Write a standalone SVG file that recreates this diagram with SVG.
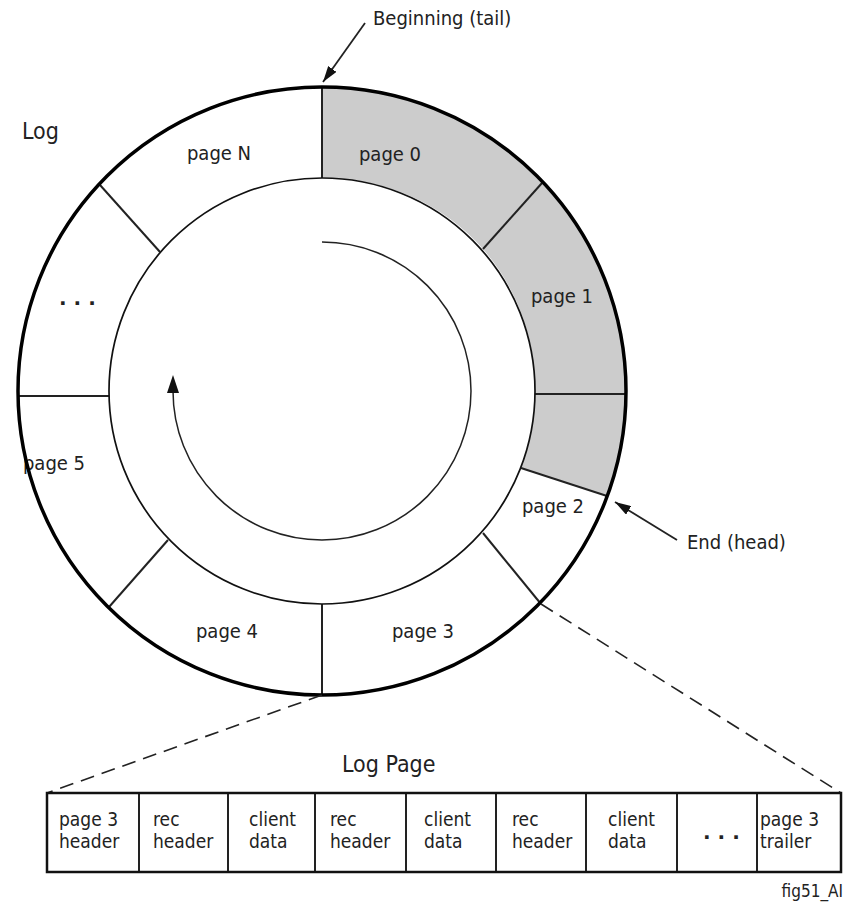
<svg xmlns="http://www.w3.org/2000/svg" width="844" height="903" viewBox="0 0 844 903">
<defs>
<style>
.t{font-family:"DejaVu Sans Condensed","DejaVu Sans","Liberation Sans",sans-serif;font-stretch:condensed;font-size:20px;fill:#222}
.big{font-size:23px}
.c{font-size:19px}
.dots{font-family:"DejaVu Sans",sans-serif;font-weight:bold;font-size:20px;letter-spacing:7px;fill:#222}
.seg{stroke:none}
.grey{fill:#cccccc}
.white{fill:#ffffff}
.div{stroke:#222;stroke-width:2;fill:none}
.cell{fill:#fff;stroke:#222;stroke-width:2}
.arrow{stroke:#222;stroke-width:1.8;fill:none}
.dash{stroke:#222;stroke-width:1.6;stroke-dasharray:14 8}
</style>
<marker id="ah" viewBox="0 0 16 10" refX="16" refY="5" markerWidth="16" markerHeight="10" markerUnits="userSpaceOnUse" orient="auto">
<path d="M0,0 L16,5 L0,10 z" fill="#111"/>
</marker>
</defs>
<rect width="844" height="903" fill="#fff"/>

<g id="segments">
<g id="page0"><path class="seg grey" d="M322,87 A304,304 0 0 1 542,183 L483,249 A213,213 0 0 0 322,178 Z"/><text class="t" x="390" y="161" text-anchor="middle">page 0</text></g>
<g id="page1"><path class="seg grey" d="M542,183 A304,304 0 0 1 626,394 L535,394 A213,213 0 0 0 483,249 Z"/><text class="t" x="562" y="303" text-anchor="middle">page 1</text></g>
<g id="page1b"><path class="seg grey" d="M626,394 A304,304 0 0 1 607,496 L521,468 A213,213 0 0 0 535,394 Z"/></g>
<g id="page2"><path class="seg white" d="M607,496 A304,304 0 0 1 541,604 L483,533 A213,213 0 0 0 521,468 Z"/><text class="t" x="553" y="513" text-anchor="middle">page 2</text></g>
<g id="page3"><path class="seg white" d="M541,604 A304,304 0 0 1 322,695 L322,604 A213,213 0 0 0 483,533 Z"/><text class="t" x="423" y="638" text-anchor="middle">page 3</text></g>
<g id="page4"><path class="seg white" d="M322,695 A304,304 0 0 1 109,607 L168,540 A213,213 0 0 0 322,604 Z"/><text class="t" x="227" y="638" text-anchor="middle">page 4</text></g>
<g id="page5"><path class="seg white" d="M109,607 A304,304 0 0 1 18,396 L109,396 A213,213 0 0 0 168,540 Z"/><text class="t" x="54" y="470" text-anchor="middle">page 5</text></g>
<g id="pageEllipsis"><path class="seg white" d="M18,396 A304,304 0 0 1 100,185 L160,252 A213,213 0 0 0 109,396 Z"/><text class="dots" x="59" y="305">...</text></g>
<g id="pageN"><path class="seg white" d="M100,185 A304,304 0 0 1 322,87 L322,178 A213,213 0 0 0 160,252 Z"/><text class="t" x="219" y="160" text-anchor="middle">page N</text></g>
</g>

<g id="ring">
<line class="div" x1="322" y1="87" x2="322" y2="178"/>
<line class="div" x1="542" y1="183" x2="483" y2="249"/>
<line class="div" x1="626" y1="394" x2="535" y2="394"/>
<line class="div" x1="607" y1="496" x2="521" y2="468"/>
<line class="div" x1="541" y1="604" x2="483" y2="533"/>
<line class="div" x1="322" y1="695" x2="322" y2="604"/>
<line class="div" x1="109" y1="607" x2="168" y2="540"/>
<line class="div" x1="18" y1="396" x2="109" y2="396"/>
<line class="div" x1="100" y1="185" x2="160" y2="252"/>
<circle cx="322" cy="391" r="213" fill="none" stroke="#111" stroke-width="1.7"/>
<circle cx="322" cy="391" r="304" fill="none" stroke="#000" stroke-width="3.5"/>
</g>

<g id="labels">
<text class="t big" x="22" y="139">Log</text>
<text class="t" x="373" y="25">Beginning (tail)</text>
<text class="t" x="687" y="549">End (head)</text>
<text class="t big" x="342" y="772">Log Page</text>
<text class="t" x="843" y="897" text-anchor="end" style="font-size:17px">fig51_AI</text>
</g>

<g id="connectors">
<line class="arrow" x1="365" y1="23" x2="323" y2="82" marker-end="url(#ah)"/>
<line class="arrow" x1="677" y1="540" x2="615" y2="502" marker-end="url(#ah)"/>
<path d="M322,242 A149,149 0 1 1 173,391" fill="none" stroke="#222" stroke-width="1.5"/>
<polygon points="173,375 167,393 179,393" fill="#111"/>
<line class="dash" x1="322" y1="695" x2="47" y2="793"/>
<line class="dash" x1="541" y1="604" x2="841" y2="793"/>
</g>

<g id="logpage">
<g id="cell1"><rect class="cell" x="47" y="793" width="92" height="79"/><text class="t c" x="59" y="826">page 3</text><text class="t c" x="59" y="848">header</text></g>
<g id="cell2"><rect class="cell" x="139" y="793" width="89" height="79"/><text class="t c" x="153" y="826">rec</text><text class="t c" x="153" y="848">header</text></g>
<g id="cell3"><rect class="cell" x="228" y="793" width="87" height="79"/><text class="t c" x="249" y="826">client</text><text class="t c" x="249" y="848">data</text></g>
<g id="cell4"><rect class="cell" x="315" y="793" width="91" height="79"/><text class="t c" x="330" y="826">rec</text><text class="t c" x="330" y="848">header</text></g>
<g id="cell5"><rect class="cell" x="406" y="793" width="90" height="79"/><text class="t c" x="424" y="826">client</text><text class="t c" x="424" y="848">data</text></g>
<g id="cell6"><rect class="cell" x="496" y="793" width="90" height="79"/><text class="t c" x="512" y="826">rec</text><text class="t c" x="512" y="848">header</text></g>
<g id="cell7"><rect class="cell" x="586" y="793" width="91" height="79"/><text class="t c" x="608" y="826">client</text><text class="t c" x="608" y="848">data</text></g>
<g id="cell8"><rect class="cell" x="677" y="793" width="80" height="79"/><text class="dots" x="703" y="839">...</text></g>
<g id="cell9"><rect class="cell" x="757" y="793" width="84" height="79"/><text class="t c" x="760" y="826">page 3</text><text class="t c" x="760" y="848">trailer</text></g>
<rect x="47" y="793" width="794" height="79" fill="none" stroke="#111" stroke-width="2.5"/>
</g>
</svg>
